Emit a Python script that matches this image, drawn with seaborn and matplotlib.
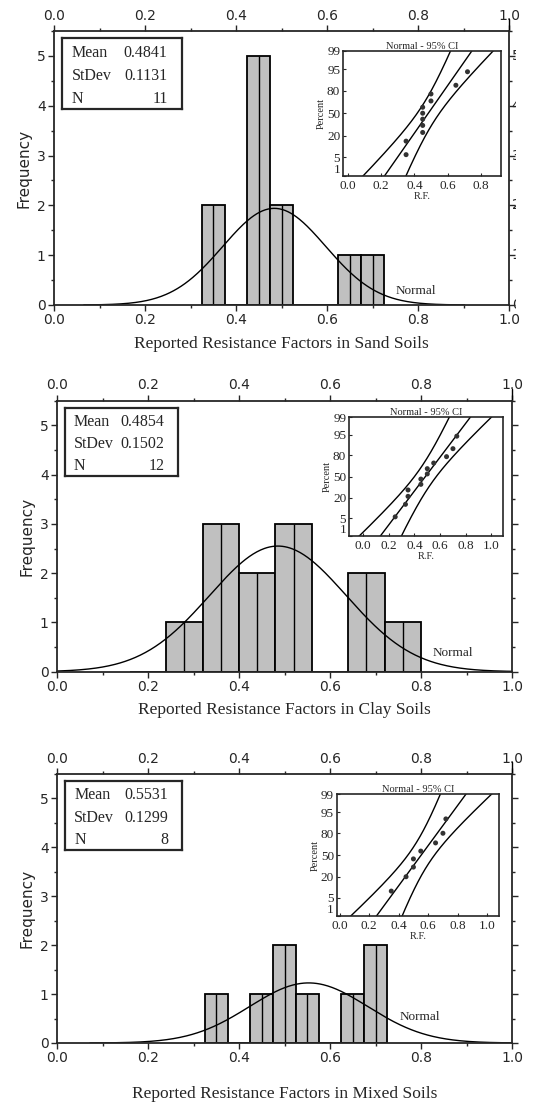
import numpy as np
import matplotlib
matplotlib.use('Agg')
import matplotlib.pyplot as plt
from matplotlib.ticker import MultipleLocator
from matplotlib.transforms import Bbox, TransformedBbox
import seaborn as sns
from statistics import NormalDist

# Datos: factores de resistencia reportados por tipo de suelo
rf_sand = [0.35, 0.35, 0.45, 0.45, 0.45, 0.45, 0.45, 0.50, 0.50, 0.65, 0.72]
rf_clay = [0.25, 0.33, 0.35, 0.35, 0.45, 0.45, 0.50, 0.50, 0.55, 0.65, 0.70, 0.73]
rf_mixed = [0.35, 0.45, 0.50, 0.50, 0.55, 0.65, 0.70, 0.72]

soil_names = ['Sand', 'Clay', 'Mixed']
mean_vals = [0.4841, 0.4854, 0.5531]
stdev_vals = [0.1131, 0.1502, 0.1299]
n_vals = [11, 12, 8]

# Clases del histograma (inicio, fin, ancho)
bin_starts = [0.325, 0.16, 0.325]
bin_ends = [0.725, 0.80, 0.725]
bin_widths = [0.05, 0.08, 0.05]

x_ticks = [0.0, 0.2, 0.4, 0.6, 0.8, 1.0]
y_ticks = [0, 1, 2, 3, 4, 5]
pct_ticks = [1, 5, 20, 50, 80, 95, 99]
inset_xticks = [[0.0, 0.2, 0.4, 0.6, 0.8],
                [0.0, 0.2, 0.4, 0.6, 0.8, 1.0],
                [0.0, 0.2, 0.4, 0.6, 0.8, 1.0]]
inset_xlims = [(-0.03, 0.92), (-0.11, 1.09), (-0.02, 1.08)]
normal_label_xy = [(0.75, 0.28), (0.825, 0.37), (0.753, 0.53)]

# Configuracion de estilo
sns.set_style('ticks')
plt.rcParams['font.family'] = ['DejaVu Sans']
SERIF = ['Liberation Serif', 'DejaVu Serif']

W, H = 549, 1103
fig = plt.figure(figsize=(W / 100, H / 100), dpi=100)


def px_box(left, top, right, bottom):
    """Caja en pixeles -> fracciones de figura"""
    return [left / W, 1 - bottom / H, (right - left) / W, (bottom - top) / H]


main_boxes = [(54, 31, 509, 305), (57, 400.7, 512, 671.7), (57, 774, 512, 1043)]
stat_boxes = [(62, 38, 182, 109), (65, 407.7, 178, 476), (65, 781, 182, 850)]
inset_boxes = [(343, 50.7, 500.7, 175.7), (349, 417.3, 503, 535.7),
               (336.7, 794.3, 499, 915.7)]
xlabel_pads = [6, 6, 15]

datasets = [rf_sand, rf_clay, rf_mixed]
nd = NormalDist()

for k, data in enumerate(datasets):
    mu, sd, n = mean_vals[k], stdev_vals[k], n_vals[k]
    bw = bin_widths[k]

    # Histograma principal
    ax = fig.add_axes(px_box(*main_boxes[k]))
    edges = np.linspace(bin_starts[k], bin_ends[k],
                        int(round((bin_ends[k] - bin_starts[k]) / bw)) + 1)
    sns.histplot(x=data, bins=edges, ax=ax, color='#c0c0c0', edgecolor='black',
                 linewidth=1.3, alpha=1)
    for p in list(ax.patches):
        if p.get_height() > 0:
            cx = p.get_x() + p.get_width() / 2
            ax.vlines(cx, 0, p.get_height(), color='black', linewidth=1.0)

    # Curva normal ajustada
    xs = np.linspace(mu - 3.7 * sd, mu + 3.7 * sd, 400)
    ys = [n * bw * NormalDist(mu, sd).pdf(v) for v in xs]
    ax.plot(xs, ys, color='black', linewidth=1.0)
    tx, ty = normal_label_xy[k]
    ax.text(tx, ty, 'Normal', family=SERIF, fontsize=9.5, va='center', ha='left')

    ax.set_xlim(0, 1.0)
    ax.set_ylim(0, 5.5)
    ax.set_xticks(x_ticks)
    ax.set_xticklabels([f'{t:.1f}' for t in x_ticks])
    ax.set_yticks(y_ticks)
    ax.xaxis.set_minor_locator(MultipleLocator(0.1))
    ax.yaxis.set_minor_locator(MultipleLocator(0.5))
    ax.tick_params(which='both', direction='out', top=True, right=True,
                   labeltop=True, labelsize=10, width=1.0, pad=2)
    ax.tick_params(which='major', length=4)
    ax.tick_params(which='minor', length=2.5)
    for s in ax.spines.values():
        s.set_linewidth(1.3)
    ax.set_ylabel('Frequency', fontsize=11, labelpad=4)
    ax.set_xlabel(f'Reported Resistance Factors in {soil_names[k]} Soils',
                  family=SERIF, fontsize=12.5, labelpad=xlabel_pads[k])
    ax.plot([1, 1], [1, 1.045], transform=ax.transAxes, clip_on=False,
            color='black', linewidth=1.0)

    # Etiquetas derechas recortadas (solo visibles en parte en el original)
    if k == 0:
        clip = TransformedBbox(Bbox([[0, 0], [516 / W, 1]]), fig.transFigure)
        for yv in y_ticks:
            t = ax.text(1.006, yv, str(yv), fontsize=10, va='center', ha='left',
                        transform=ax.get_yaxis_transform())
            t.set_clip_box(clip)
            t.set_clip_on(True)

    # Recuadro de estadisticas
    bx = fig.add_axes(px_box(*stat_boxes[k]))
    bx.set_xticks([])
    bx.set_yticks([])
    bx.set_facecolor('white')
    for s in bx.spines.values():
        s.set_linewidth(1.6)
        s.set_visible(True)
    rows = [('Mean', f'{mu:.4f}'), ('StDev', f'{sd:.4f}'), ('N', f'{n}')]
    for j, (lab, val) in enumerate(rows):
        yy = 0.79 - j * 0.325
        bx.text(0.08, yy, lab, family=SERIF, fontsize=11.5, va='center',
                transform=bx.transAxes)
        bx.text(0.88, yy, val, family=SERIF, fontsize=11.5, va='center',
                ha='right', transform=bx.transAxes)

    # Grafico de probabilidad normal - 95% CI
    ix = fig.add_axes(px_box(*inset_boxes[k]))
    srt = np.sort(np.array(data))
    ranks = np.arange(1, len(srt) + 1)
    zq = [nd.inv_cdf((r - 0.3) / (len(srt) + 0.4)) for r in ranks]
    zz = np.linspace(nd.inv_cdf(0.005), nd.inv_cdf(0.995), 200)
    fit = mu + sd * zz
    half = 1.96 * np.sqrt(sd ** 2 / n + zz ** 2 * sd ** 2 / (2 * n))
    ix.plot(fit, zz, color='black', linewidth=1.0)
    ix.plot(fit - half, zz, color='black', linewidth=1.0)
    ix.plot(fit + half, zz, color='black', linewidth=1.0)
    sns.scatterplot(x=srt, y=zq, ax=ix, color='#333333', s=13,
                    edgecolor='none', zorder=3)
    ix.set_xlim(*inset_xlims[k])
    ix.set_ylim(nd.inv_cdf(0.01), nd.inv_cdf(0.99))
    ix.set_yticks([nd.inv_cdf(p / 100) for p in pct_ticks])
    ix.set_yticklabels([str(p) for p in pct_ticks], family=SERIF, fontsize=9.5)
    ix.get_yticklabels()[0].set_verticalalignment('bottom')
    ix.set_xticks(inset_xticks[k])
    ix.set_xticklabels([f'{t:.1f}' for t in inset_xticks[k]], family=SERIF,
                       fontsize=9.5)
    ix.tick_params(axis='y', direction='in', length=2, pad=2, width=0.8)
    ix.tick_params(axis='x', direction='in', length=2, pad=3, width=0.8)
    for s in ix.spines.values():
        s.set_linewidth(1.2)
    ix.set_title('Normal - 95% CI', family=SERIF, fontsize=7.5, pad=1.5)
    ix.set_xlabel('R.F.', family=SERIF, fontsize=7.5, labelpad=0)
    ix.set_ylabel('Percent', family=SERIF, fontsize=7.5, labelpad=1)

fig.savefig('out.png', dpi=100)
